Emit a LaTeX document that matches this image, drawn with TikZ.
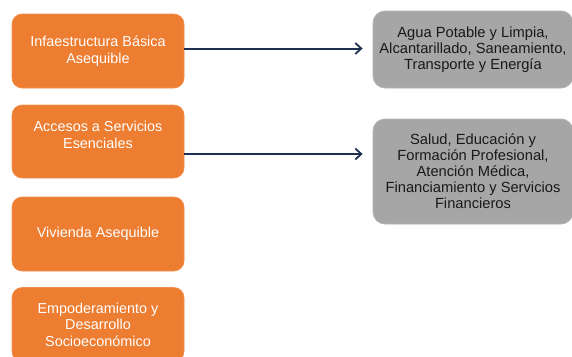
\documentclass[tikz,border=0pt]{standalone}
\usepackage{fontspec}
\setmainfont{Liberation Sans}
\usetikzlibrary{arrows.meta,positioning,calc}
\definecolor{boxorange}{HTML}{ED7D31}
\definecolor{boxgray}{HTML}{A6A6A6}
\definecolor{arrnavy}{HTML}{1F2F4F}
\tikzset{
  obox/.style={fill=boxorange, draw=boxorange!85!white, line width=0.6pt, rounded corners=10pt,
    minimum width=172pt, inner sep=0pt},
  gbox/.style={fill=boxgray, draw=boxgray!85!white, line width=0.8pt, rounded corners=12pt,
    minimum width=200pt, inner sep=0pt},
  otext/.style={text=white, align=center, font=\fontsize{14.4}{16.5}\selectfont},
  gtext/.style={text=black!90, align=center, font=\fontsize{14.7}{16}\selectfont},
  conn/.style={draw=arrnavy, line width=2pt, -{Straight Barb[length=6pt,width=11pt,line width=1.8pt]}, shorten >=10pt}
}
\begin{document}
\begin{tikzpicture}[x=1pt,y=-1pt]
\path[use as bounding box, clip] (0,0) rectangle (572,356);
\fill[white] (0,0) rectangle (572,356);
% left column
\node[obox, minimum height=74pt, otext] (a1) at (98,51) {Infaestructura Básica\\Asequible};
\node[obox, minimum height=73pt] (a2) at (98,141.5) {};
\node[otext] (a2t) at (98,135) {Accesos a Servicios\\Esenciales};
\node[obox, minimum height=74pt, otext] (a3) at (98,234) {Vivienda Asequible};
\node[obox, minimum height=74pt, otext] (a4) at (98,324.5) {Empoderamiento y\\Desarrollo\\Socioeconómico};
% right column
\node[gbox, minimum height=77pt, gtext] (g1) at (473,49.5) {Agua Potable y Limpia,\\Alcantarillado, Saneamiento,\\Transporte y Energía};
\node[gbox, minimum height=105pt, gtext] (g2) at (473,171.5) {Salud, Educación y\\Formación Profesional,\\Atención Médica,\\Financiamiento y Servicios\\Financieros};
% connectors
\coordinate (s1) at ([yshift=2.5pt]a1.east);
\coordinate (s2) at ([yshift=-12.5pt]a2.east);
\draw[conn] (s1) -- (s1 -| g1.west);
\draw[conn] (s2) -- (s2 -| g2.west);
\end{tikzpicture}
\end{document}
